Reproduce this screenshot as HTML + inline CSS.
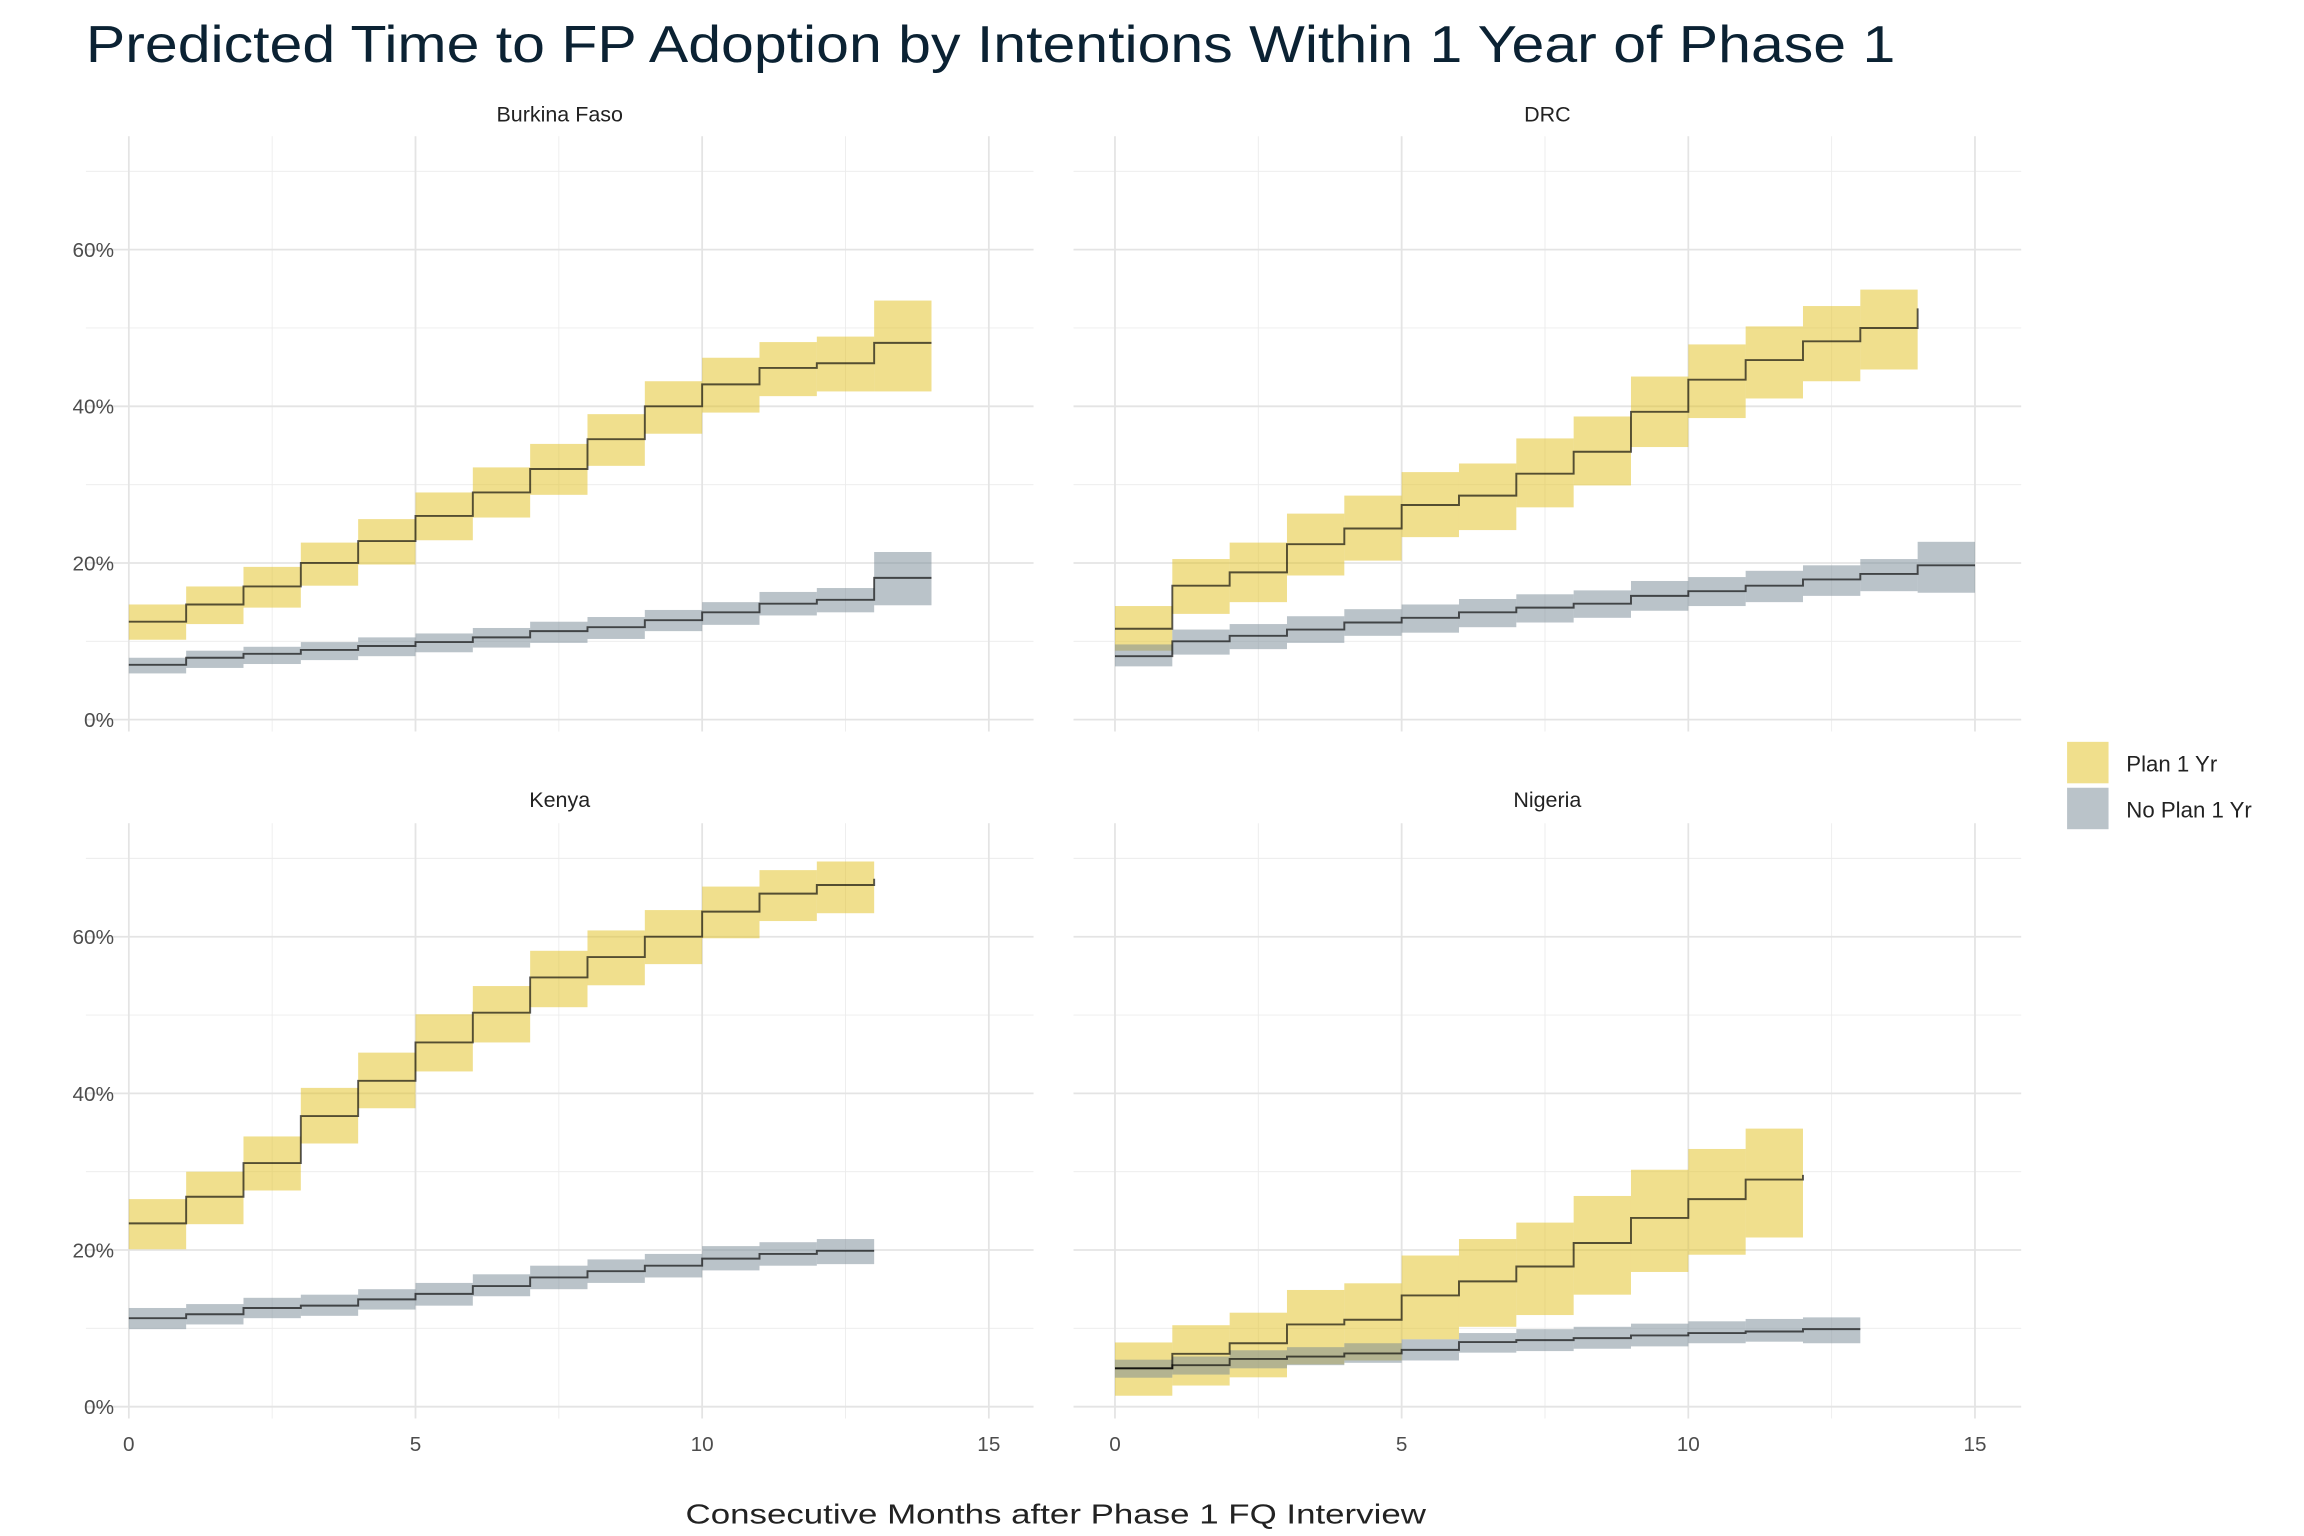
<!DOCTYPE html>
<html><head><meta charset="utf-8"><style>
html,body{margin:0;padding:0;background:#fff;}
svg{display:block;font-family:"Liberation Sans",sans-serif;}
</style></head><body>
<svg id="chart" width="2304" height="1536" viewBox="0 0 1556 1037.33" preserveAspectRatio="none" xmlns="http://www.w3.org/2000/svg">
<text x="58" y="42" font-size="35" fill="#0b2233" textLength="1222" lengthAdjust="spacingAndGlyphs">Predicted Time to FP Adoption by Intentions Within 1 Year of Phase 1</text>
<text x="713" y="1029" font-size="19" fill="#222" text-anchor="middle" textLength="500" lengthAdjust="spacingAndGlyphs">Consecutive Months after Phase 1 FQ Interview</text>
<g>
<rect x="1396" y="501" width="28" height="28" fill="#f0df8c"/>
<rect x="1396" y="532" width="28" height="28" fill="#bac3c9"/>
<text x="1436" y="521" font-size="15" fill="#222">Plan 1 Yr</text>
<text x="1436" y="552" font-size="15" fill="#222">No Plan 1 Yr</text>
</g>
<g id="panels"></g>
</svg>
<script>
const panelNames = ["Burkina Faso","DRC","Kenya","Nigeria"];
const xTicks = [0,5,10,15];
const yTicks = [0,20,40,60];
const yTickLabels = ["0%","20%","40%","60%"];
const bfPlan = [12.5,14.7,17.0,20.0,22.8,26.0,29.0,32.0,35.8,40.0,42.8,44.9,45.5,48.1];
const bfPlanHi = [14.7,17.0,19.5,22.6,25.6,29.0,32.2,35.2,39.0,43.2,46.2,48.2,48.9,53.5];
const bfPlanLo = [10.2,12.2,14.3,17.1,19.8,22.9,25.8,28.7,32.4,36.5,39.2,41.3,41.9,41.9];
const bfNo = [7.0,7.9,8.4,8.9,9.4,9.9,10.5,11.3,11.8,12.7,13.7,14.8,15.3,18.1];
const bfNoHi = [7.9,8.8,9.3,9.9,10.5,11.0,11.7,12.5,13.1,14.0,15.0,16.3,16.8,21.4];
const bfNoLo = [5.9,6.6,7.1,7.6,8.1,8.6,9.2,9.8,10.3,11.3,12.1,13.3,13.7,14.6];
const drcPlan = [11.6,17.1,18.8,22.4,24.4,27.4,28.6,31.4,34.2,39.3,43.4,45.9,48.3,50.0,52.5];
const drcPlanHi = [14.5,20.5,22.6,26.3,28.6,31.6,32.7,35.9,38.7,43.8,47.9,50.2,52.8,54.9];
const drcPlanLo = [8.8,13.5,15.0,18.4,20.3,23.3,24.2,27.1,29.9,34.8,38.5,41.0,43.2,44.7];
const drcNo = [8.1,10.0,10.7,11.5,12.4,13.0,13.7,14.3,14.8,15.8,16.4,17.1,17.9,18.6,19.7];
const drcNoHi = [9.6,11.5,12.2,13.2,14.1,14.7,15.4,16.0,16.5,17.7,18.2,19.0,19.7,20.5,22.7];
const drcNoLo = [6.8,8.3,9.0,9.8,10.7,11.1,11.8,12.4,13.0,13.9,14.5,15.0,15.8,16.4,16.2];
const kenPlan = [23.4,26.8,31.1,37.1,41.6,46.5,50.3,54.8,57.4,60.0,63.2,65.5,66.6,67.4];
const kenPlanHi = [26.5,30.0,34.5,40.7,45.2,50.1,53.7,58.2,60.8,63.4,66.4,68.5,69.6];
const kenPlanLo = [20.1,23.3,27.6,33.6,38.1,42.8,46.5,51.0,53.8,56.5,59.8,62.0,63.0];
const kenNo = [11.3,11.8,12.6,12.9,13.7,14.4,15.4,16.5,17.3,18.0,18.9,19.5,19.9];
const kenNoHi = [12.6,13.1,13.9,14.3,15.0,15.8,16.9,18.0,18.8,19.5,20.5,21.0,21.4];
const kenNoLo = [9.9,10.5,11.3,11.6,12.4,12.9,14.1,15.0,15.8,16.5,17.4,18.0,18.2];
const ngPlan = [4.9,6.75,8.1,10.5,11.1,14.2,16.0,17.9,20.9,24.1,26.5,29.0,29.6];
const ngPlanHi = [8.2,10.4,12.0,14.9,15.75,19.3,21.4,23.5,26.9,30.25,32.9,35.5];
const ngPlanLo = [1.4,2.7,3.75,5.4,5.9,8.6,10.2,11.7,14.3,17.2,19.4,21.6];
const ngNo = [4.9,5.3,6.1,6.4,6.8,7.25,8.25,8.5,8.75,9.1,9.4,9.6,9.9];
const ngNoHi = [6.0,6.4,7.2,7.6,8.1,8.6,9.4,9.9,10.2,10.6,10.9,11.2,11.4];
const ngNoLo = [3.7,4.1,4.9,5.3,5.6,5.9,6.9,7.1,7.4,7.7,8.1,8.3,8.1];

const panelData = [
  {plan:[bfPlan,bfPlanHi,bfPlanLo], no:[bfNo,bfNoHi,bfNoLo]},
  {plan:[drcPlan,drcPlanHi,drcPlanLo], no:[drcNo,drcNoHi,drcNoLo]},
  {plan:[kenPlan,kenPlanHi,kenPlanLo], no:[kenNo,kenNoHi,kenNoLo]},
  {plan:[ngPlan,ngPlanHi,ngPlanLo], no:[ngNo,ngNoHi,ngNoLo]}
];
const NS = "http://www.w3.org/2000/svg";
const root = document.getElementById("panels");
function mk(tag, attrs, parent){const e=document.createElementNS(NS,tag);for(const k in attrs)e.setAttribute(k,attrs[k]);parent.appendChild(e);return e;}
const layout = [
  {x0:87, y0:486, left:58, right:698, top:92, stripY:82},
  {x0:753, y0:486, left:725, right:1365, top:92, stripY:82},
  {x0:87, y0:950, left:58, right:698, top:556, stripY:545},
  {x0:753, y0:950, left:725, right:1365, top:556, stripY:545}
];
const XU = 38.72, YU = 5.29;
panelNames.forEach((name, p) => {
  const L = layout[p];
  const sx = v => L.x0 + v*XU;
  const sy = v => L.y0 - v*YU;
  const g = mk("g", {}, root);
  
  
  const bottom = L.y0 + 8;
  [2.5,7.5,12.5].forEach(v=>{ mk("line",{x1:sx(v),x2:sx(v),y1:L.top,y2:bottom,stroke:"#ececec","stroke-width":0.6},g); });
  [10,30,50,70].forEach(v=>{ mk("line",{x1:L.left,x2:L.right,y1:sy(v),y2:sy(v),stroke:"#ececec","stroke-width":0.6},g); });
  xTicks.forEach(v=>{ mk("line",{x1:sx(v),x2:sx(v),y1:L.top,y2:bottom,stroke:"#e4e4e4","stroke-width":1.2},g); });
  yTicks.forEach(v=>{ mk("line",{x1:L.left,x2:L.right,y1:sy(v),y2:sy(v),stroke:"#e4e4e4","stroke-width":1.2},g); });
  const st = mk("text",{x:(L.left+L.right)/2,y:L.stripY,"font-size":14.5,fill:"#222","text-anchor":"middle"},g);
  st.textContent = name;
  
  
  if (p===0 || p===2) {
    yTicks.forEach((v,i)=>{
      const t = mk("text",{x:77,y:sy(v)+5,"font-size":14,fill:"#4d4d4d","text-anchor":"end"},g);
      t.textContent = yTickLabels[i];
      
      
    });
  }
  if (p>=2) {
    xTicks.forEach(v=>{
      const t = mk("text",{x:sx(v),y:L.y0+30,"font-size":14,fill:"#4d4d4d","text-anchor":"middle"},g);
      t.textContent = String(v);
      
      
    });
  }
  const series = [
    {d:panelData[p].plan, fill:"#e2c01c", key:"plan"},
    {d:panelData[p].no, fill:"#758893", key:"no-plan"}
  ];
  series.forEach(s=>{
    const [est,hi,lo] = s.d;
    for (let i=0;i<hi.length;i++){
      const r = mk("rect",{x:sx(i),width:sx(i+1)-sx(i),y:sy(hi[i]),height:sy(lo[i])-sy(hi[i]),fill:s.fill,"fill-opacity":0.5},g);
      
      
    }
  });
  series.forEach(s=>{
    const est = s.d[0], n = s.d[1].length;
    let path = "M"+sx(0)+","+sy(est[0]);
    for (let i=0;i<est.length;i++){
      if (i>0) path += " L"+sx(i)+","+sy(est[i]);
      const xe = i < n ? i+1 : i;
      path += " L"+sx(xe)+","+sy(est[i]);
    }
    const pl = mk("path",{d:path,fill:"none",stroke:"#000","stroke-opacity":0.65,"stroke-width":1.3},g);
    
    
  });
});
</script>
</body></html>
